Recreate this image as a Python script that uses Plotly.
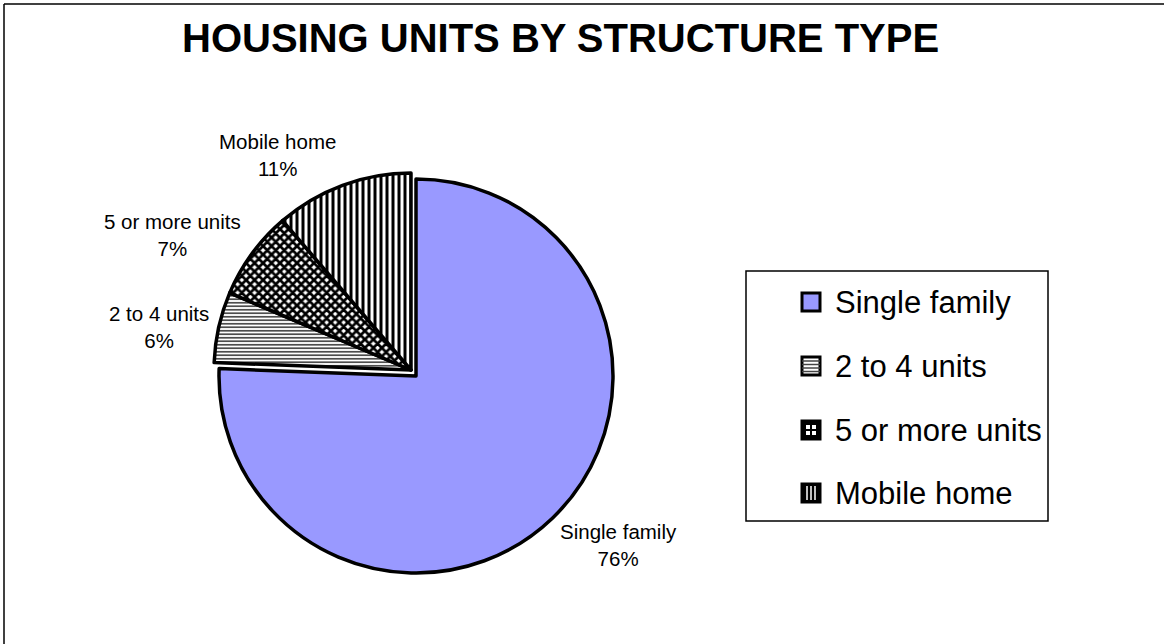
import plotly.graph_objects as go

# ---- data ----
categories = ["Single family", "2 to 4 units", "5 or more units", "Mobile home"]
values = [75.6, 5.8, 7.3, 11.3]
fill_colors = ["#9999FF", "white", "white", "white"]
pattern_shapes = ["", "-", "x", "|"]
pattern_sizes = [6, 3.5, 6, 6]
pattern_solidity = [0.3, 0.35, 0.7, 0.5]
title_text = "HOUSING UNITS BY STRUCTURE TYPE"

# ---- layout helpers ----
W, H = 1164, 644
FONT = "Liberation Sans, Arial, Helvetica, sans-serif"


def px_x(x):
    return x / W


def px_y(y):
    return 1 - y / H


def domain(cx, cy, r):
    return dict(x=[(cx - r) / W, (cx + r) / W], y=[1 - (cy + r) / H, 1 - (cy - r) / H])


R = 197
main_center = (416, 376)
group_center = (411, 370)  # small slices are pulled out as a group

total = sum(values)
pcts = [round(v / total * 100) for v in values]


def make_pie(mask, cx, cy):
    colors = [c if m else "rgba(0,0,0,0)" for c, m in zip(fill_colors, mask)]
    shapes = [p if m else "" for p, m in zip(pattern_shapes, mask)]
    widths = [3.5 if m else 0 for m in mask]
    return go.Pie(
        labels=categories,
        values=values,
        sort=False,
        direction="clockwise",
        rotation=0,
        domain=domain(cx, cy, R),
        textinfo="none",
        hoverinfo="label+percent",
        showlegend=False,
        marker=dict(
            colors=colors,
            line=dict(color="black", width=widths),
            pattern=dict(
                shape=shapes,
                fgcolor="black",
                fgopacity=1,
                size=pattern_sizes,
                solidity=pattern_solidity,
                fillmode="overlay",
            ),
        ),
    )


fig = go.Figure()
fig.add_trace(make_pie([True, False, False, False], *main_center))
fig.add_trace(make_pie([False, True, True, True], *group_center))

annotations = []
shapes = []

# title
annotations.append(dict(
    text="<b>" + title_text + "</b>", x=px_x(560), y=px_y(38), xref="paper", yref="paper",
    xanchor="center", yanchor="middle", showarrow=False,
    font=dict(family=FONT, size=40, color="black"),
))

# slice labels
label_pos = [(618, 545), (159, 327), (172, 235), (277, 155)]
for name, p, (lx, ly) in zip(categories, pcts, label_pos):
    annotations.append(dict(
        text=f"{name}<br>{p}%", x=px_x(lx), y=px_y(ly), xref="paper", yref="paper",
        xanchor="center", yanchor="middle", showarrow=False, align="center",
        font=dict(family=FONT, size=20.5, color="black"),
    ))

# outer chart border: only top and left edges are visible in the frame
shapes.append(dict(type="line", xref="paper", yref="paper",
                   x0=px_x(4), x1=1, y0=px_y(4), y1=px_y(4),
                   line=dict(color="black", width=1.5)))
shapes.append(dict(type="line", xref="paper", yref="paper",
                   x0=px_x(4), x1=px_x(4), y0=0, y1=px_y(4),
                   line=dict(color="black", width=1.5)))

# legend box
shapes.append(dict(type="rect", xref="paper", yref="paper",
                   x0=px_x(746), x1=px_x(1048), y0=px_y(521), y1=px_y(271),
                   line=dict(color="black", width=1.5), fillcolor="white"))

legend_y = [302, 366, 430, 493]
mx0, mx1 = 802, 820
for i, (name, ly) in enumerate(zip(categories, legend_y)):
    y0, y1 = ly - 9, ly + 9
    if i == 0:
        shapes.append(dict(type="rect", xref="paper", yref="paper",
                           x0=px_x(mx0), x1=px_x(mx1), y0=px_y(y1), y1=px_y(y0),
                           line=dict(color="black", width=3), fillcolor=fill_colors[0]))
    elif i == 1:
        shapes.append(dict(type="rect", xref="paper", yref="paper",
                           x0=px_x(mx0), x1=px_x(mx1), y0=px_y(y1), y1=px_y(y0),
                           line=dict(color="black", width=3), fillcolor="white"))
        for k in range(4):
            yy = y0 + 4 + k * 3.5
            shapes.append(dict(type="line", xref="paper", yref="paper",
                               x0=px_x(mx0), x1=px_x(mx1), y0=px_y(yy), y1=px_y(yy),
                               line=dict(color="#444", width=1.5)))
    elif i == 2:
        shapes.append(dict(type="rect", xref="paper", yref="paper",
                           x0=px_x(mx0), x1=px_x(mx1), y0=px_y(y1), y1=px_y(y0),
                           line=dict(color="black", width=3), fillcolor="black"))
        for a in range(2):
            for b in range(2):
                sx = mx0 + 4 + a * 6
                sy = y0 + 4 + b * 6
                shapes.append(dict(type="rect", xref="paper", yref="paper",
                                   x0=px_x(sx), x1=px_x(sx + 4), y0=px_y(sy + 4), y1=px_y(sy),
                                   line=dict(width=0), fillcolor="white"))
    else:
        shapes.append(dict(type="rect", xref="paper", yref="paper",
                           x0=px_x(mx0), x1=px_x(mx1), y0=px_y(y1), y1=px_y(y0),
                           line=dict(color="black", width=3), fillcolor="black"))
        for k in range(3):
            xx = mx0 + 5 + k * 4
            shapes.append(dict(type="line", xref="paper", yref="paper",
                               x0=px_x(xx), x1=px_x(xx), y0=px_y(y1 - 2), y1=px_y(y0 + 2),
                               line=dict(color="white", width=1.5)))
    annotations.append(dict(
        text=name, x=px_x(833), y=px_y(ly), xref="paper", yref="paper",
        xanchor="left", yanchor="middle", showarrow=False,
        font=dict(family=FONT, size=31, color="black"),
    ))

fig.update_layout(
    width=W, height=H,
    margin=dict(l=0, r=0, t=0, b=0),
    paper_bgcolor="white",
    plot_bgcolor="white",
    annotations=annotations,
    shapes=shapes,
    font=dict(family=FONT),
)

fig.write_html(
    "out.html",
    config={"displayModeBar": False},
    post_script="document.body.style.margin='0';document.body.style.overflow='hidden';",
)
